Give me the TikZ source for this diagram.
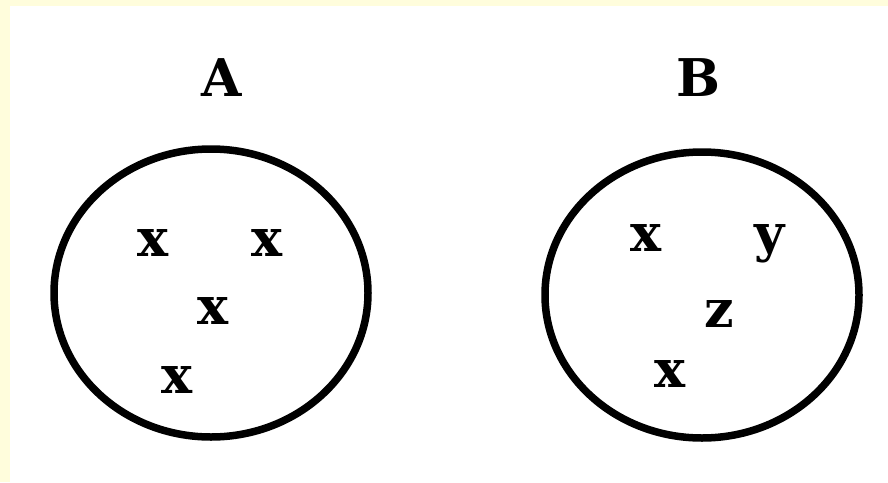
\documentclass[tikz,border=0pt]{standalone}
\usepackage{fontspec}
\setmainfont{DejaVu Serif}
\definecolor{bandyellow}{HTML}{FFFDDC}
\tikzset{
  setcircle/.style={draw=black, line width=7.5pt},
  lbl/.style={inner sep=0pt, anchor=base, font=\fontsize{52}{60}\selectfont\bfseries},
  elem/.style={inner sep=0pt, anchor=base, font=\fontsize{52}{60}\selectfont\bfseries}
}
\begin{document}
\begin{tikzpicture}[x=1pt,y=-1pt]
\useasboundingbox (0,0) rectangle (888,482);
\fill[bandyellow] (0,0) rectangle (888,482);
\fill[white] (10,6) rectangle (888,482);
% set A
\node[lbl] (labA) at (222,96) {A};
\node[draw=none] (setA) at (211,293) {};
\draw[setcircle] (setA.center) ellipse [x radius=157pt, y radius=144pt];
\node[elem] (a1) at (153,256) {x};
\node[elem] (a2) at (267,256) {x};
\node[elem] (a3) at (213,324) {x};
\node[elem] (a4) at (177,393) {x};
% set B
\node[lbl] (labB) at (698,96) {B};
\node[draw=none] (setB) at (702,295) {};
\draw[setcircle] (setB.center) ellipse [x radius=157pt, y radius=143pt];
\node[elem] (b1) at (646,251) {x};
\node[elem] (b2) at (770,251) {y};
\node[elem] (b3) at (719,327) {z};
\node[elem] (b4) at (670,387) {x};
\end{tikzpicture}
\end{document}
